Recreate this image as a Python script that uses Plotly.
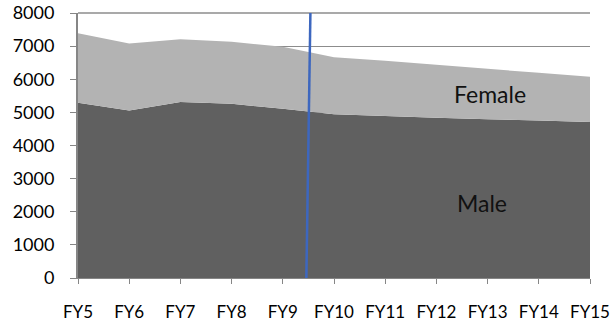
import plotly.graph_objects as go

# Fiscal years and headcount by gender (stacked)
years = [5, 6, 7, 8, 9, 10, 11, 12, 13, 14, 15]
year_labels = ["FY5", "FY6", "FY7", "FY8", "FY9", "FY10",
               "FY11", "FY12", "FY13", "FY14", "FY15"]
male = [5290, 5060, 5310, 5260, 5110, 4945, 4890, 4835, 4795, 4755, 4710]
female = [2095, 2020, 1900, 1870, 1870, 1720, 1670, 1600, 1520, 1440, 1365]

# Marker separating actuals from projections
split_year = 9.5
y_max = 8000

fig = go.Figure()
fig.add_trace(go.Scatter(
    x=years, y=male, name="Male", stackgroup="g", mode="none",
    fillcolor="#606060", line=dict(width=0),
))
fig.add_trace(go.Scatter(
    x=years, y=female, name="Female", stackgroup="g", mode="none",
    fillcolor="#b3b3b3", line=dict(width=0),
))

# top gridline along the upper edge of the plot area
fig.add_shape(type="line", xref="x", yref="paper",
              x0=years[0], x1=years[-1], y0=1, y1=1,
              line=dict(color="#8c8c8c", width=1.5), layer="below")

fig.add_shape(type="line", xref="x", yref="y",
              x0=split_year + 0.04, y0=8100, x1=split_year - 0.04, y1=0,
              line=dict(color="#3d67bf", width=2.5), layer="above")

fig.add_annotation(x=13.05, y=5550, text="Female", showarrow=False,
                   font=dict(family="Lato", size=23, color="#111111"))
fig.add_annotation(x=12.9, y=2250, text="Male", showarrow=False,
                   font=dict(family="Lato", size=23, color="#111111"))

fig.update_layout(
    width=610, height=322,
    margin=dict(l=78, r=20, t=13, b=44),
    paper_bgcolor="white", plot_bgcolor="white",
    showlegend=False,
    font=dict(family="Lato", size=17, color="#000000"),
)
fig.update_xaxes(
    range=[5, 15], tickvals=years, ticktext=year_labels,
    showgrid=False, zeroline=False, automargin=False,
    showline=True, linecolor="#868686", linewidth=1,
    ticks="outside", ticklen=5, tickcolor="#868686",
    ticklabelstandoff=14, tickfont=dict(size=17),
)
fig.update_yaxes(
    range=[0, y_max], dtick=1000, tickformat="d",
    showgrid=True, gridcolor="#8c8c8c", gridwidth=1,
    zeroline=False, automargin=False,
    showline=True, linecolor="#868686", linewidth=2,
    ticks="outside", ticklen=6, tickcolor="#868686",
    ticklabelstandoff=12, tickfont=dict(size=18),
)

fig.write_html("out.html")
